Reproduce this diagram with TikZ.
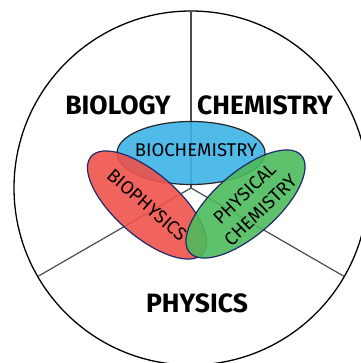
\documentclass[tikz,border=0pt]{standalone}
\usepackage{fontspec}
\setsansfont{Fira Sans}
\usetikzlibrary{shapes.geometric,calc}
\definecolor{bioblue}{HTML}{3DB2E5}
\definecolor{phyred}{HTML}{F0524B}
\definecolor{chemgreen}{HTML}{4DBA5B}
\definecolor{rimnavy}{HTML}{1E2A6E}
\begin{document}
\begin{tikzpicture}[
    x=1pt, y=1pt,
    field/.style={font=\sffamily\bfseries\fontsize{26.5}{28}\selectfont},
    blob/.style={ellipse, draw=rimnavy, line width=1.2pt, fill opacity=0.9,
                 minimum width=148pt, minimum height=63pt, inner sep=0pt},
    overlap/.style={font=\sffamily\fontsize{18.5}{21}\selectfont, align=center, inner sep=0pt}
]
\useasboundingbox (0,0) rectangle (360,363);
\coordinate (o) at (191,175);
\draw[line width=1.3pt] (o) circle (177);
\foreach \a in {90,210,330}
  \draw[line width=1.2pt, black!70] (o) -- ++(\a:177);

% the three fields
\node[field] (biology) at (118,258) {BIOLOGY};
\node[field] (chemistry) at (265,258) {CHEMISTRY};
\node[field] (physics) at (197,60) {PHYSICS};

% overlapping fields
\node[blob, draw=black!85, fill=bioblue] (biochem) at (191,210) {};
\node[blob, fill=phyred, rotate=-41] (biophys) at (147,158) {};
\node[blob, fill=chemgreen, rotate=41] (physchem) at (245.5,159) {};

\node[overlap] at ($(biochem.center)+(5,3)$) {BIOCHEMISTRY};
\node[overlap, rotate=-41] at (biophys.center) {BIOPHYSICS};
\node[overlap, rotate=44, font=\sffamily\fontsize{18.5}{23}\selectfont] at ($(physchem.center)+(7,2)$) {PHYSICAL\\CHEMISTRY};
\end{tikzpicture}
\end{document}
